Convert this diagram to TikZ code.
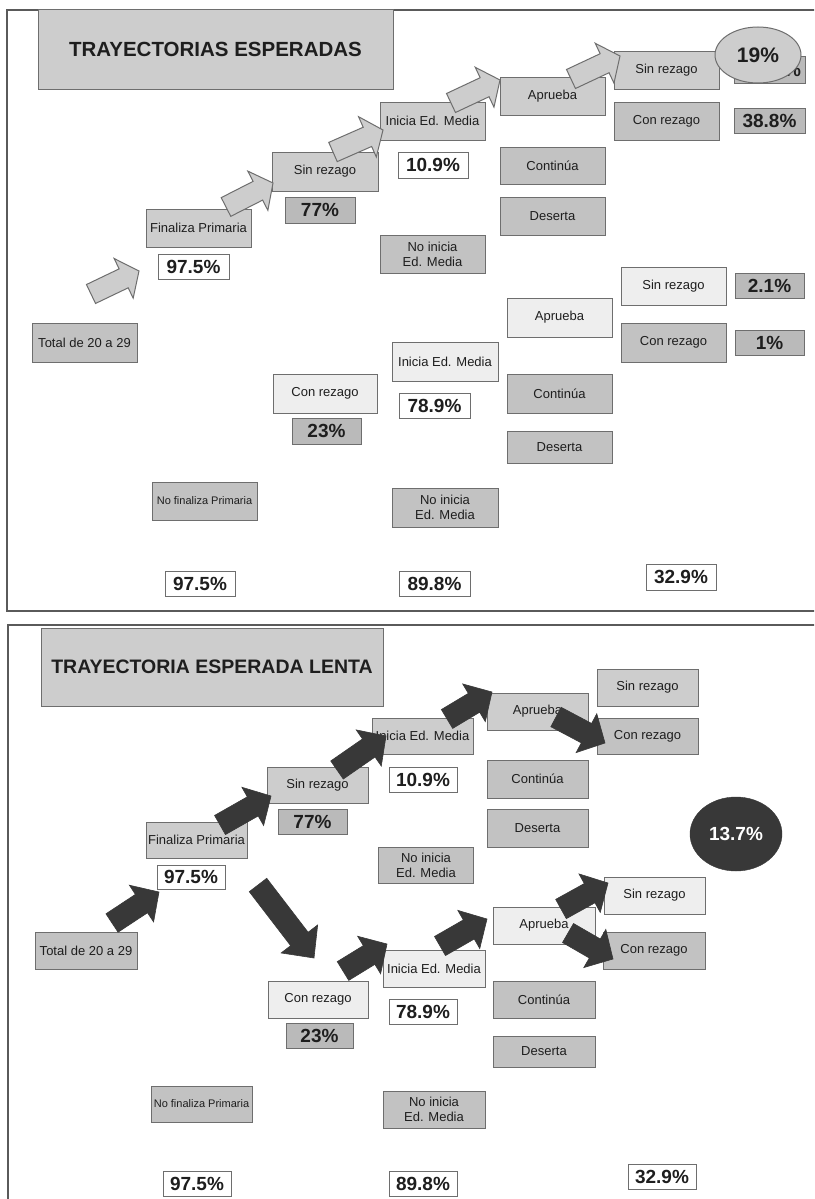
\documentclass[tikz,border=0pt]{standalone}
\usepackage{fontspec}
\setmainfont{Liberation Sans}
\usetikzlibrary{calc,shapes.geometric}
\definecolor{gA}{HTML}{CDCDCD}
\definecolor{gB}{HTML}{C2C2C2}
\definecolor{gL}{HTML}{EEEEEE}
\definecolor{gP}{HTML}{BABABA}
\definecolor{bd}{HTML}{6E6E6E}
\definecolor{ink}{HTML}{1E1E1E}
\definecolor{darr}{HTML}{383838}
\definecolor{frm}{HTML}{5A5A5A}
% #1 style, #2 tail, #3 tip, #4 shaft half width, #5 head half width, #6 head length
\newcommand{\barrow}[6]{%
  \coordinate (#2-#3-hb) at ($(#3)!#6!(#2)$);
  \path[#1] ($(#2)!#4!90:(#3)$) -- ($(#2-#3-hb)!#4!90:(#3)$) -- ($(#2-#3-hb)!#5!90:(#3)$) -- (#3)
     -- ($(#2-#3-hb)!#5!-90:(#3)$) -- ($(#2-#3-hb)!#4!-90:(#3)$) -- ($(#2)!#4!-90:(#3)$) -- cycle;}
\tikzset{
  x=1pt, y=-1pt,
  bx/.style={draw=bd, line width=1pt, inner sep=0pt, font=\fontsize{13}{15}\selectfont, text=ink, align=center},
  pc/.style={draw=bd, line width=1pt, inner sep=0pt, font=\bfseries\fontsize{19}{21}\selectfont, text=ink},
  sz/.style 2 args={minimum width=#1, minimum height=#2},
  ttl/.style={draw=bd, line width=1pt, fill=gA, inner sep=0pt, font=\bfseries\fontsize{20.5}{23}\selectfont, text=ink},
  larr/.style={fill=gA, draw=bd, line width=1pt, line join=miter},
  darr/.style={fill=darr, draw=darr, line width=0.6pt, line join=miter},
  frame/.style={draw=frm, line width=2pt}
}
\begin{document}
\begin{tikzpicture}
\useasboundingbox (0,0) rectangle (814,1199);
\clip (0,0) rectangle (814,1199);
\fill[white] (0,0) rectangle (814,1199);
% frames
\path[frame] (7,10) rectangle (840,611);
\path[frame] (8,625) rectangle (840,1230);

% ================= TOP PANEL =================
\node[ttl, sz={355}{79}] (title1) at (215.5,49.5) {TRAYECTORIAS ESPERADAS};
\node[bx, fill=gB, sz={105}{39}] (total1) at (84.5,342.5) {Total de 20 a 29};
\node[bx, fill=gA, sz={105}{38}] (fin1) at (198.5,228) {Finaliza Primaria};
\node[pc, fill=white, sz={71}{25}] (p975a1) at (193.5,266.5) {97.5\%};
\node[bx, fill=gA, sz={106}{39}] (sin1) at (325,171.5) {Sin rezago};
\node[pc, fill=gP, sz={70}{26}] (p77a) at (320,210) {77\%};
\node[bx, fill=gA, sz={105}{38}] (ini1) at (432.5,121) {Inicia Ed. Media};
\node[pc, fill=white, sz={70}{26}] (p109a) at (433,165) {10.9\%};
\node[bx, fill=gB, sz={105}{38}] (noini1) at (432.5,254) {No inicia\\Ed. Media};
\node[bx, fill=gA, sz={105}{38}] (apr1) at (552.5,96) {Aprueba};
\node[bx, fill=gB, sz={105}{37}] (cont1) at (552.5,165.5) {Continúa};
\node[bx, fill=gB, sz={105}{38}] (des1) at (552.5,216) {Deserta};
\node[bx, fill=gA, sz={105}{37}] (sinA1) at (666.5,70.5) {Sin rezago};
\node[bx, fill=gB, sz={105}{38}] (conA1) at (666.5,121) {Con rezago};
\node[pc, fill=gP, sz={71}{26}, inner xsep=4pt, text width=63pt, align=right] (hid1) at (769.5,70) {\%};
\node[pc, fill=gP, sz={71}{25}] (p388) at (769.5,120.5) {38.8\%};
\node[ellipse, draw=bd, line width=1pt, fill=gA, inner sep=0pt, sz={86}{56}, font=\bfseries\fontsize{21}{23}\selectfont, text=ink] (e19) at (758,55) {19\%};

\node[bx, fill=gL, sz={104}{39}] (conr1) at (325,393.5) {Con rezago};
\node[pc, fill=gP, sz={69}{26}] (p23a) at (326.5,431) {23\%};
\node[bx, fill=gB, sz={105}{38}, font=\fontsize{11}{13}\selectfont] (nofin1) at (204.5,501) {No finaliza Primaria};
\node[pc, fill=white, sz={70}{25}] (p975b1) at (200,583.5) {97.5\%};
\node[bx, fill=gL, sz={106}{39}] (iniL1) at (445,361.5) {Inicia Ed. Media};
\node[pc, fill=white, sz={71}{25}] (p789a) at (434.5,405.5) {78.9\%};
\node[bx, fill=gB, sz={106}{39}] (noiniL1) at (445,507.5) {No inicia\\Ed. Media};
\node[pc, fill=white, sz={71}{25}] (p898a) at (434.5,583.5) {89.8\%};
\node[bx, fill=gL, sz={105}{39}] (aprL1) at (559.5,317.5) {Aprueba};
\node[bx, fill=gB, sz={105}{39}] (contL1) at (559.5,393.5) {Continúa};
\node[bx, fill=gB, sz={105}{32}] (desL1) at (559.5,447) {Deserta};
\node[bx, fill=gL, sz={105}{38}] (sinB1) at (673.5,286) {Sin rezago};
\node[pc, fill=gP, sz={69}{25}] (p21) at (769.5,285.5) {2.1\%};
\node[bx, fill=gB, sz={105}{39}] (conB1) at (673.5,342.5) {Con rezago};
\node[pc, fill=gP, sz={69}{25}] (p1) at (769.5,342.5) {1\%};
\node[pc, fill=white, sz={70}{26}] (p329a) at (681,577) {32.9\%};

% light arrows
\coordinate (A1t) at (91,294);  \coordinate (A1h) at (139,271);
\coordinate (A2t) at (226,207); \coordinate (A2h) at (273,183);
\coordinate (A3t) at (333,152); \coordinate (A3h) at (383,130);
\coordinate (A4t) at (451,103); \coordinate (A4h) at (500,80);
\coordinate (A5t) at (571,79);  \coordinate (A5h) at (620,56);
\barrow{larr}{A1t}{A1h}{10.5pt}{22pt}{17pt}
\barrow{larr}{A2t}{A2h}{10.5pt}{22pt}{17pt}
\barrow{larr}{A3t}{A3h}{10.5pt}{22pt}{17pt}
\barrow{larr}{A4t}{A4h}{10.5pt}{22pt}{17pt}
\barrow{larr}{A5t}{A5h}{10.5pt}{22pt}{17pt}

% ================= BOTTOM PANEL =================
\node[ttl, sz={342}{78}, font=\bfseries\fontsize{19.5}{22}\selectfont] (title2) at (212,667) {TRAYECTORIA ESPERADA LENTA};
\node[bx, fill=gB, sz={102}{37}] (total2) at (86,950.5) {Total de 20 a 29};
\node[bx, fill=gA, sz={101}{36}] (fin2) at (196.5,840) {Finaliza Primaria};
\node[pc, fill=white, sz={68}{24}] (p975a2) at (191,877) {97.5\%};
\node[bx, fill=gA, sz={101}{36}] (sin2) at (317.5,785) {Sin rezago};
\node[pc, fill=gP, sz={69}{25}] (p77b) at (312.5,821.5) {77\%};
\node[bx, fill=gA, sz={101}{36}] (ini2) at (422.5,736) {Inicia Ed. Media};
\node[pc, fill=white, sz={68}{25}] (p109b) at (423,779.5) {10.9\%};
\node[bx, fill=gB, sz={95}{36}] (noini2) at (426,865) {No inicia\\Ed. Media};
\node[bx, fill=gA, sz={101}{37}] (apr2) at (537.5,711.5) {Aprueba};
\node[bx, fill=gB, sz={101}{38}] (cont2) at (537.5,779) {Continúa};
\node[bx, fill=gB, sz={101}{38}] (des2) at (537.5,828) {Deserta};
\node[bx, fill=gA, sz={101}{37}] (sinA2) at (647.5,687.5) {Sin rezago};
\node[bx, fill=gB, sz={101}{36}] (conA2) at (647.5,736) {Con rezago};
\node[ellipse, draw=darr, fill=darr, inner sep=0pt, sz={92}{74}, font=\bfseries\fontsize{19}{21}\selectfont, text=white] (e137) at (736,834) {13.7\%};

\node[bx, fill=gL, sz={100}{37}] (conr2) at (318,999.5) {Con rezago};
\node[pc, fill=gP, sz={67}{25}] (p23b) at (319.5,1035.5) {23\%};
\node[bx, fill=gB, sz={101}{36}, font=\fontsize{11}{13}\selectfont] (nofin2) at (201.5,1104) {No finaliza Primaria};
\node[pc, fill=white, sz={68}{25}] (p975b2) at (197,1183.5) {97.5\%};
\node[bx, fill=gL, sz={102}{37}] (iniL2) at (434,968.5) {Inicia Ed. Media};
\node[pc, fill=white, sz={68}{25}] (p789b) at (423,1011.5) {78.9\%};
\node[bx, fill=gB, sz={102}{37}] (noiniL2) at (434,1109.5) {No inicia\\Ed. Media};
\node[pc, fill=white, sz={68}{25}] (p898b) at (423,1183.5) {89.8\%};
\node[bx, fill=gL, sz={102}{37}] (aprL2) at (544,925.5) {Aprueba};
\node[bx, fill=gB, sz={102}{37}] (contL2) at (544,999.5) {Continúa};
\node[bx, fill=gB, sz={102}{31}] (desL2) at (544,1051.5) {Deserta};
\node[bx, fill=gL, sz={101}{37}] (sinB2) at (654.5,895.5) {Sin rezago};
\node[bx, fill=gB, sz={102}{37}] (conB2) at (654,950.5) {Con rezago};
\node[pc, fill=white, sz={68}{25}] (p329b) at (662,1176.5) {32.9\%};

% dark arrows
\coordinate (Bat) at (112,923); \coordinate (Bah) at (159,892);
\coordinate (Bbt) at (220,825); \coordinate (Bbh) at (271,796);
\coordinate (Bct) at (337,770); \coordinate (Bch) at (386,736);
\coordinate (Bdt) at (447,719); \coordinate (Bdh) at (492,692);
\coordinate (Bet) at (556,717); \coordinate (Beh) at (605,743);
\coordinate (Bft) at (258,885); \coordinate (Bfh) at (314,958);
\coordinate (Bgt) at (343,971); \coordinate (Bgh) at (387,944);
\coordinate (Bht) at (440,946); \coordinate (Bhh) at (487,919);
\coordinate (Bit) at (561,909); \coordinate (Bih) at (608,883);
\coordinate (Bjt) at (568,933); \coordinate (Bjh) at (613,959);
\barrow{darr}{Bat}{Bah}{11pt}{22pt}{21pt}
\barrow{darr}{Bbt}{Bbh}{11pt}{22pt}{21pt}
\barrow{darr}{Bct}{Bch}{11pt}{22pt}{21pt}
\barrow{darr}{Bdt}{Bdh}{11pt}{22pt}{21pt}
\barrow{darr}{Bet}{Beh}{11pt}{22pt}{21pt}
\barrow{darr}{Bft}{Bfh}{11pt}{23pt}{24pt}
\barrow{darr}{Bgt}{Bgh}{11pt}{22pt}{21pt}
\barrow{darr}{Bht}{Bhh}{11pt}{22pt}{21pt}
\barrow{darr}{Bit}{Bih}{11pt}{22pt}{21pt}
\barrow{darr}{Bjt}{Bjh}{11pt}{22pt}{21pt}
\end{tikzpicture}
\end{document}
